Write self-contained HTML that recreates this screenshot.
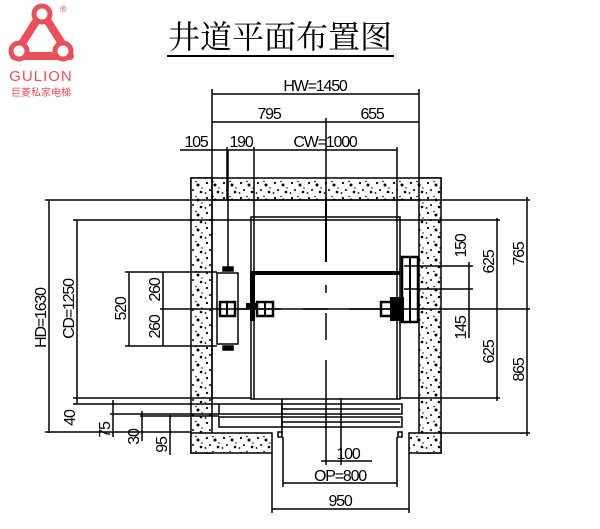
<!DOCTYPE html>
<html><head><meta charset="utf-8"><style>
body{margin:0;background:#fff;width:600px;height:529px;overflow:hidden}
svg{display:block}
text{font-family:"Liberation Sans","Noto Sans CJK SC",sans-serif;fill:#000}
.d text{font-size:16px;letter-spacing:-1.2px}
</style></head><body>
<svg width="600" height="529" viewBox="0 0 600 529" xmlns="http://www.w3.org/2000/svg">
<defs>
<pattern id="sp" width="17" height="15" patternUnits="userSpaceOnUse">
<rect width="17" height="15" fill="#fff"/>
<circle cx="3" cy="3" r="1.1" fill="#000"/><circle cx="11" cy="5" r="1.5" fill="#000"/>
<circle cx="6" cy="10" r="1" fill="#000"/><circle cx="14" cy="12" r="1.3" fill="#000"/>
<circle cx="9" cy="1.5" r="0.8" fill="#000"/><circle cx="1.5" cy="13" r="0.9" fill="#000"/>
<circle cx="15" cy="8" r="0.7" fill="#000"/>
</pattern>
</defs>
<!-- logo -->
<path d="M42 12 L70 56 L14 56 Z" fill="none" stroke="#e8505b" stroke-width="8" stroke-linejoin="round"/>
<circle cx="42" cy="14" r="8" fill="#fff" stroke="#e8505b" stroke-width="5"/>
<circle cx="19" cy="51" r="8" fill="#fff" stroke="#e8505b" stroke-width="5"/>
<circle cx="63" cy="51" r="8" fill="#fff" stroke="#e8505b" stroke-width="5"/>
<text x="60" y="12" font-size="9" style="fill:#e8505b">®</text>
<text x="41" y="81" font-size="15" text-anchor="middle" style="fill:#e8505b;letter-spacing:1px">GULION</text>
<text x="41" y="96" font-size="10" text-anchor="middle" style="fill:#e8505b">巨菱私家电梯</text>
<!-- title -->
<text x="280" y="48" font-size="32" text-anchor="middle" style="font-family:'Noto Serif CJK SC',serif">井道平面布置图</text>
<line x1="167" y1="56" x2="394" y2="56" stroke="#000" stroke-width="2"/>

<g stroke="#000" stroke-width="1.5" fill="none">
<rect x="191" y="178" width="250" height="22" fill="url(#sp)"/>
<rect x="191" y="178" width="21" height="275" fill="url(#sp)"/>
<rect x="419" y="178" width="22" height="275" fill="url(#sp)"/>
<rect x="191" y="433" width="81" height="20" fill="url(#sp)"/>
<rect x="409" y="433" width="32" height="20" fill="url(#sp)"/>
<rect x="251" y="217" width="149" height="182"/>
<line x1="254" y1="217" x2="254" y2="399"/>
<line x1="397" y1="217" x2="397" y2="399"/>
<rect x="219" y="404" width="63" height="10" fill="#fff"/>
<rect x="219" y="417" width="63" height="10" fill="#fff"/>
<rect x="282" y="404" width="120" height="10" fill="#fff"/>
<rect x="282" y="417" width="120" height="10" fill="#fff"/>
<line x1="282" y1="399" x2="282" y2="433"/>
<line x1="282" y1="409" x2="400" y2="409"/>
<line x1="282" y1="422" x2="400" y2="422"/>
<rect x="278" y="432" width="4" height="5"/>
<rect x="398" y="432" width="4" height="5"/>
<line x1="272" y1="453" x2="272" y2="513"/>
<line x1="409" y1="453" x2="409" y2="513"/>
<line x1="283" y1="437" x2="283" y2="487"/>
<line x1="397" y1="437" x2="397" y2="487"/>
<line x1="272" y1="509" x2="409" y2="509"/>
<line x1="283" y1="483" x2="397" y2="483"/>
<line x1="321" y1="461" x2="372" y2="461"/>
<line x1="341" y1="398" x2="341" y2="465"/>
<line x1="326" y1="400" x2="326" y2="465"/>
<rect x="217" y="273" width="21" height="71" fill="#fff"/>
<line x1="228" y1="150" x2="228" y2="268"/>
<rect x="223" y="267" width="10" height="4" fill="#000"/>
<rect x="223" y="346" width="10" height="4" fill="#000"/>
<rect x="220" y="302" width="15" height="14" stroke-width="2.5" fill="#fff"/>
<line x1="227" y1="302" x2="227" y2="316" stroke-width="2"/>
<rect x="257" y="302" width="16" height="14" stroke-width="2.5" fill="#fff"/>
<line x1="265" y1="302" x2="265" y2="316" stroke-width="2"/>
<rect x="381" y="302" width="13" height="14" stroke-width="2.5" fill="#fff"/>
<rect x="250" y="271" width="150" height="4" fill="#000" stroke="none"/>
<rect x="250" y="271" width="5" height="50" fill="#000" stroke="none"/>
<rect x="246" y="303" width="12" height="6" fill="#000" stroke="none"/>
<rect x="402" y="257" width="16" height="65" stroke-width="2.5" fill="#fff"/>
<rect x="390" y="297" width="14" height="24" fill="#000" stroke="none"/>
<line x1="410" y1="257" x2="410" y2="322" stroke-width="2"/>
<line x1="237" y1="309" x2="281" y2="309"/>
<line x1="303" y1="309" x2="328" y2="309"/>
<line x1="349" y1="309" x2="392" y2="309"/>
<line x1="326" y1="200" x2="326" y2="262" stroke-width="2"/>
<line x1="326" y1="285" x2="326" y2="293"/>
<line x1="326" y1="313" x2="326" y2="340"/>
<line x1="326" y1="360" x2="326" y2="400"/>
<line x1="212" y1="94" x2="419" y2="94"/>
<line x1="212" y1="122" x2="419" y2="122"/>
<line x1="180" y1="150" x2="397" y2="150"/>
<line x1="212" y1="89" x2="212" y2="400"/>
<line x1="419" y1="89" x2="419" y2="178"/>
<line x1="227" y1="147" x2="227" y2="200"/>
<line x1="254" y1="147" x2="254" y2="217"/>
<line x1="326" y1="118" x2="326" y2="200"/>
<line x1="397" y1="147" x2="397" y2="217"/>
<line x1="45" y1="200" x2="530" y2="200"/>
<line x1="73" y1="220" x2="500" y2="220"/>
<line x1="125" y1="272" x2="217" y2="272"/>
<line x1="125" y1="346" x2="217" y2="346"/>
<line x1="160" y1="309" x2="530" y2="309"/>
<line x1="404" y1="266" x2="473" y2="266"/>
<line x1="404" y1="289" x2="473" y2="289"/>
<line x1="400" y1="398" x2="500" y2="398"/>
<line x1="441" y1="433" x2="530" y2="433"/>
<line x1="49" y1="200" x2="49" y2="433"/>
<line x1="45" y1="432" x2="191" y2="432"/>
<line x1="77" y1="220" x2="77" y2="404"/>
<line x1="129" y1="272" x2="129" y2="346"/>
<line x1="163" y1="272" x2="163" y2="346"/>
<line x1="73" y1="398" x2="251" y2="398"/>
<line x1="73" y1="404" x2="219" y2="404"/>
<line x1="110" y1="414" x2="219" y2="414"/>
<line x1="140" y1="416" x2="219" y2="416"/>
<line x1="113" y1="400" x2="113" y2="437"/>
<line x1="142" y1="411" x2="142" y2="441"/>
<line x1="170" y1="415" x2="170" y2="455"/>
<line x1="527" y1="197" x2="527" y2="436"/>
<line x1="497" y1="218" x2="497" y2="401"/>
<line x1="469" y1="262" x2="469" y2="338"/>
</g>
<g class="d">
<text x="315" y="91" text-anchor="middle">HW=1450</text>
<text x="269" y="119" text-anchor="middle">795</text>
<text x="372" y="119" text-anchor="middle">655</text>
<text x="196" y="147" text-anchor="middle">105</text>
<text x="241" y="147" text-anchor="middle">190</text>
<text x="325" y="147" text-anchor="middle">CW=1000</text>
<text x="348" y="459" text-anchor="middle">100</text>
<text x="340" y="481" text-anchor="middle">OP=800</text>
<text x="340" y="506" text-anchor="middle">950</text>
<text transform="translate(46 318) rotate(-90)" text-anchor="middle">HD=1630</text>
<text transform="translate(74 309) rotate(-90)" text-anchor="middle">CD=1250</text>
<text transform="translate(126 309) rotate(-90)" text-anchor="middle">520</text>
<text transform="translate(160 290) rotate(-90)" text-anchor="middle">260</text>
<text transform="translate(160 327) rotate(-90)" text-anchor="middle">260</text>
<text transform="translate(75 418) rotate(-90)" text-anchor="middle">40</text>
<text transform="translate(110 430) rotate(-90)" text-anchor="middle">75</text>
<text transform="translate(139 437) rotate(-90)" text-anchor="middle">30</text>
<text transform="translate(167 445) rotate(-90)" text-anchor="middle">95</text>
<text transform="translate(466 246) rotate(-90)" text-anchor="middle">150</text>
<text transform="translate(466 328) rotate(-90)" text-anchor="middle">145</text>
<text transform="translate(494 262) rotate(-90)" text-anchor="middle">625</text>
<text transform="translate(494 352) rotate(-90)" text-anchor="middle">625</text>
<text transform="translate(524 254) rotate(-90)" text-anchor="middle">765</text>
<text transform="translate(524 370) rotate(-90)" text-anchor="middle">865</text>
</g>
</svg>
</body></html>
